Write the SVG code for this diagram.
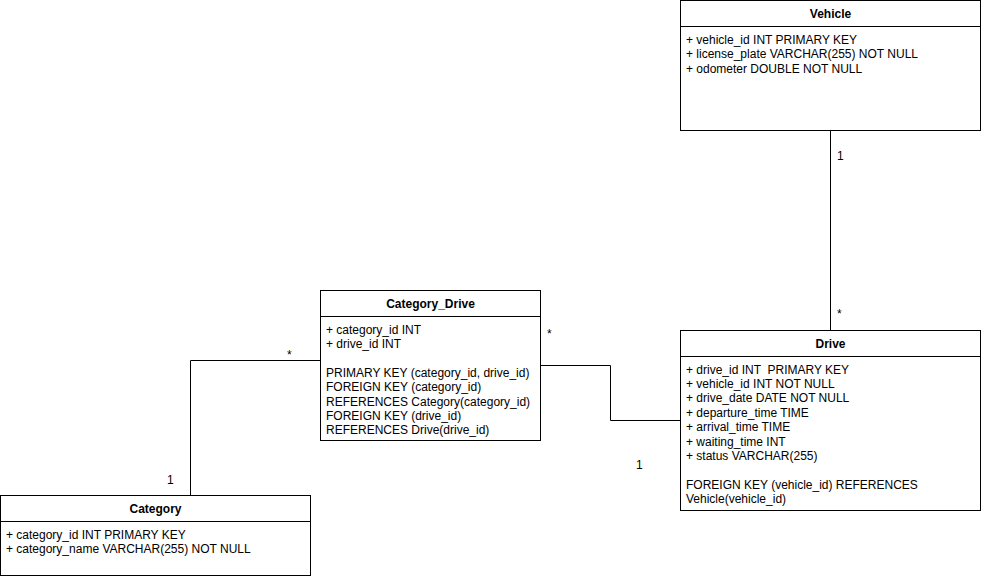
<svg xmlns="http://www.w3.org/2000/svg" width="981" height="579" viewBox="0 0 981 579">
  <style>
    .box { fill: #ffffff; stroke: #000000; stroke-width: 1; }
    .sep { stroke: #000000; stroke-width: 1; fill: none; }
    .title { font-family: "Liberation Sans", Arial, sans-serif; font-size: 12px; font-weight: bold; fill: #000000; text-anchor: middle; }
    .row { font-family: "Liberation Sans", Arial, sans-serif; font-size: 12px; fill: #000000; white-space: pre; }
    .edge { stroke: #000000; stroke-width: 1; fill: none; }
    .mult { font-family: "Liberation Sans", Arial, sans-serif; font-size: 12px; fill: #000000; }
  </style>
  <rect width="981" height="579" fill="#ffffff"/>

  <g id="connectors">
    <!-- Vehicle 1 — * Drive -->
    <path class="edge" d="M830.5 130 V330"/>
    <text class="mult" x="837" y="160">1</text>
    <text class="mult" x="837" y="318">*</text>
    <!-- Category 1 — * Category_Drive -->
    <path class="edge" d="M320 360.5 H190.5 V495"/>
    <text class="mult" x="287" y="359">*</text>
    <text class="mult" x="167" y="484">1</text>
    <!-- Category_Drive * — 1 Drive -->
    <path class="edge" d="M540 365.5 H610.5 V420.5 H680"/>
    <text class="mult" x="547" y="338">*</text>
    <text class="mult" x="636" y="469">1</text>
  </g>

  <g id="vehicle">
    <rect class="box" x="680.5" y="0.5" width="300" height="130"/>
    <path class="sep" d="M680.5 26.5 H980.5"/>
    <text class="title" x="830.5" y="18">Vehicle</text>
    <text class="row" x="686" y="44">+ vehicle_id INT PRIMARY KEY</text>
    <text class="row" x="686" y="58.4">+ license_plate VARCHAR(255) NOT NULL</text>
    <text class="row" x="686" y="72.8">+ odometer DOUBLE NOT NULL</text>
  </g>

  <g id="category_drive">
    <rect class="box" x="320.5" y="290.5" width="220" height="150"/>
    <path class="sep" d="M320.5 316.5 H540.5"/>
    <text class="title" x="430.5" y="308">Category_Drive</text>
    <text class="row" x="326" y="333.5">+ category_id INT</text>
    <text class="row" x="326" y="347.9">+ drive_id INT</text>
    <text class="row" x="326" y="376.7">PRIMARY KEY (category_id, drive_id)</text>
    <text class="row" x="326" y="391.1">FOREIGN KEY (category_id)</text>
    <text class="row" x="326" y="405.5">REFERENCES Category(category_id)</text>
    <text class="row" x="326" y="419.9">FOREIGN KEY (drive_id)</text>
    <text class="row" x="326" y="434.3">REFERENCES Drive(drive_id)</text>
  </g>

  <g id="drive">
    <rect class="box" x="680.5" y="330.5" width="300" height="180"/>
    <path class="sep" d="M680.5 356.5 H980.5"/>
    <text class="title" x="830.5" y="348">Drive</text>
    <text class="row" x="686" y="373.5" xml:space="preserve">+ drive_id INT  PRIMARY KEY</text>
    <text class="row" x="686" y="387.9">+ vehicle_id INT NOT NULL</text>
    <text class="row" x="686" y="402.3">+ drive_date DATE NOT NULL</text>
    <text class="row" x="686" y="416.7">+ departure_time TIME</text>
    <text class="row" x="686" y="431.1">+ arrival_time TIME</text>
    <text class="row" x="686" y="445.5">+ waiting_time INT</text>
    <text class="row" x="686" y="459.9">+ status VARCHAR(255)</text>
    <text class="row" x="686" y="488.7">FOREIGN KEY (vehicle_id) REFERENCES</text>
    <text class="row" x="686" y="503.1">Vehicle(vehicle_id)</text>
  </g>

  <g id="category">
    <rect class="box" x="0.5" y="495.5" width="310" height="80"/>
    <path class="sep" d="M0.5 521.5 H310.5"/>
    <text class="title" x="155.5" y="513">Category</text>
    <text class="row" x="6" y="538.5">+ category_id INT PRIMARY KEY</text>
    <text class="row" x="6" y="552.9">+ category_name VARCHAR(255) NOT NULL</text>
  </g>
</svg>
